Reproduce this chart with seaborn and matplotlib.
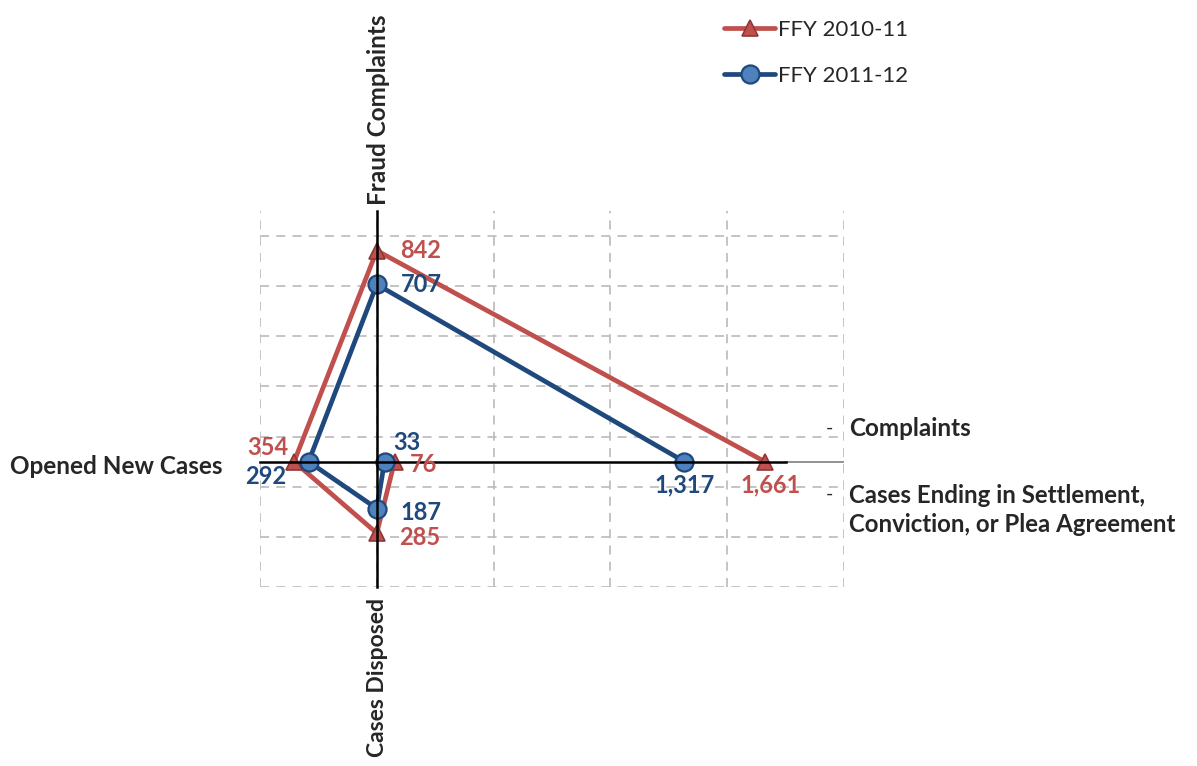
import numpy as np
import pandas as pd
import matplotlib
matplotlib.use('Agg')
import matplotlib.pyplot as plt
import seaborn as sns

# categories in drawing order, and which arm of the chart each sits on
categories = ['Cases Ending', 'Cases Disposed', 'Opened New Cases', 'Fraud Complaints', 'Complaints']
directions = [(1, 0), (0, -1), (-1, 0), (0, 1), (1, 0)]

ffy_2010 = [76, 285, 354, 842, 1661]
ffy_2011 = [33, 187, 292, 707, 1317]
series_names = ['FFY 2010-11', 'FFY 2011-12']

# build long table of coordinates from the values
rows = []
for name, vals in zip(series_names, [ffy_2010, ffy_2011]):
    for i, (cat, (dx, dy), v) in enumerate(zip(categories, directions, vals)):
        rows.append({'series': name, 'category': cat, 'order': i, 'value': v,
                     'x': dx * v, 'y': dy * v})
df = pd.DataFrame(rows)

sns.set_style('white')
plt.rcParams['font.family'] = ['Lato', 'DejaVu Sans']

red = '#C0504D'
blue_line = '#1F497D'
blue_fill = '#4F81BD'

fig = plt.figure(figsize=(11.97, 7.66), dpi=100)
ax = fig.add_axes([260 / 1197, 1 - 587 / 766, 584 / 1197, 376 / 766])

sns.lineplot(data=df, x='x', y='y', hue='series', style='series', sort=False, estimator=None,
             palette={'FFY 2010-11': red, 'FFY 2011-12': blue_line},
             markers={'FFY 2010-11': '^', 'FFY 2011-12': 'o'}, dashes=False,
             linewidth=3.4, markersize=12, legend=False, ax=ax)

lines = ax.get_lines()
lines[0].set_markerfacecolor(red)
lines[0].set_markeredgecolor('#8C3836')
lines[0].set_markeredgewidth(1.2)
lines[1].set_markerfacecolor(blue_fill)
lines[1].set_markeredgecolor(blue_line)
lines[1].set_markeredgewidth(1.6)
lines[1].set_markersize(13)

ax.set_xlim(-500, 2000)
ax.set_ylim(-500, 1000)
ax.set_xticks(np.arange(-500, 2001, 500))
ax.set_yticks([-500, -300, -100, 100, 300, 500, 700, 900])
ax.set_xticklabels([])
ax.set_yticklabels([])
ax.set_xlabel('')
ax.set_ylabel('')
ax.grid(True, color='#BFBFBF', linestyle=(0, (5, 4)), linewidth=1.3)
ax.set_axisbelow(True)

# centred axes
for s in ['top', 'right']:
    ax.spines[s].set_visible(False)
ax.spines['left'].set_position(('data', 0))
ax.spines['bottom'].set_position(('data', 0))
ax.spines['left'].set_color('black')
ax.spines['bottom'].set_color('black')
ax.spines['left'].set_linewidth(1.8)
ax.spines['bottom'].set_linewidth(1.8)
ax.spines['bottom'].set_bounds(-500, 1750)
ax.plot([1750, 2000], [0, 0], color='#7F7F7F', linewidth=1.2, zorder=1)
ax.tick_params(axis='both', direction='inout', length=8, width=1.2, color='#404040')

# data labels
label_offsets = {
    ('FFY 2010-11', 'Cases Ending'): (11, -2, 'left', 'center'),
    ('FFY 2010-11', 'Cases Disposed'): (16, -3, 'left', 'center'),
    ('FFY 2010-11', 'Opened New Cases'): (-4, 10, 'right', 'center'),
    ('FFY 2010-11', 'Fraud Complaints'): (17, 0, 'left', 'center'),
    ('FFY 2010-11', 'Complaints'): (4, -17, 'center', 'center'),
    ('FFY 2011-12', 'Cases Ending'): (6, 14, 'left', 'center'),
    ('FFY 2011-12', 'Cases Disposed'): (17, -3, 'left', 'center'),
    ('FFY 2011-12', 'Opened New Cases'): (-16, -11, 'right', 'center'),
    ('FFY 2011-12', 'Fraud Complaints'): (17, 0, 'left', 'center'),
    ('FFY 2011-12', 'Complaints'): (0, -17, 'center', 'center'),
}
for _, r in df.iterrows():
    dx, dy, ha, va = label_offsets[(r['series'], r['category'])]
    col = red if r['series'] == 'FFY 2010-11' else blue_line
    ax.annotate(f"{r['value']:,}", (r['x'], r['y']), xytext=(dx, dy), textcoords='offset points',
                ha=ha, va=va, fontsize=17, fontweight='bold', color=col, zorder=5)

# axis titles
fig.text(378 / 1197, 1 - 205 / 766, 'Fraud Complaints', rotation=90, ha='center', va='bottom',
         fontsize=17.5, fontweight='bold')
fig.text(378 / 1197, 1 - 598 / 766, 'Cases Disposed', rotation=90, ha='center', va='top',
         fontsize=16.5, fontweight='bold')
fig.text(222 / 1197, 1 - 466 / 766, 'Opened New Cases', ha='right', va='center',
         fontsize=17.5, fontweight='bold')
fig.text(826 / 1197, 1 - 428 / 766, '-', ha='left', va='center', fontsize=14)
fig.text(849 / 1197, 1 - 428 / 766, 'Complaints', ha='left', va='center',
         fontsize=17.5, fontweight='bold')
fig.text(826 / 1197, 1 - 494 / 766, '-', ha='left', va='center', fontsize=14)
fig.text(849 / 1197, 1 - 510 / 766, 'Cases Ending in Settlement,\nConviction, or Plea Agreement',
         ha='left', va='center', fontsize=17.3, fontweight='bold', linespacing=1.3)

fig.legend(handles=lines, labels=series_names, loc='upper left',
           bbox_to_anchor=(704 / 1197, 1 - 0 / 766), frameon=False, fontsize=16,
           handlelength=2.3, handletextpad=0.15, labelspacing=1.15)

fig.savefig('out.png', dpi=100)
